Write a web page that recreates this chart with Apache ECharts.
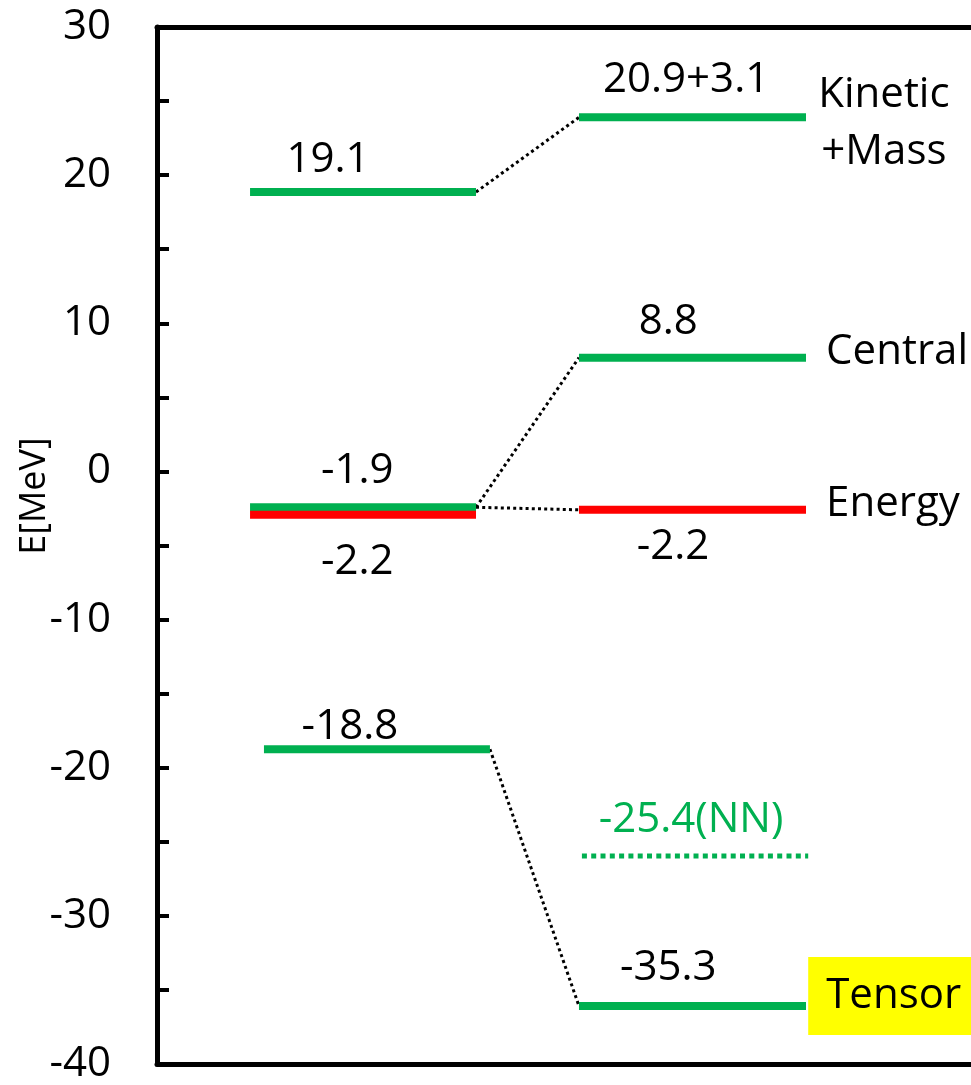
<!DOCTYPE html>
<html><head><meta charset="utf-8">
<script src="https://cdn.jsdelivr.net/npm/echarts@6/dist/echarts.min.js"></script>
<style>html,body{margin:0;padding:0;background:#fff}#c{width:971px;height:1085px}</style>
</head><body><div id="c"></div>
<script>
// ---- data ----
const states = ['Kinetic\n+Mass', 'Central', 'Energy', 'Tensor'];
const leftLevels = [18.86, -2.42, -2.93, -18.75];
const rightLevels = [23.9, 7.68, -2.59, -36.09];
const nnLevel = -25.96;
const leftLabels = ['19.1', '-1.9', '-2.2', '-18.8'];
const rightLabels = ['20.9+3.1', '8.8', '-2.2', '-35.3'];
const nnLabel = '-25.4(NN)';
const links = [[0, 0], [1, 1], [1, 2], [3, 3]];
const yTicks = [30, 20, 10, 0, -10, -20, -30, -40];
const yTitle = 'E[MeV]';

// ---- layout / style ----
const GREEN = '#00b050', RED = '#ff0000';
const FONT = 'Open Sans';
const FS = 42;
const levelColors = [GREEN, GREEN, RED, GREEN];
const leftSpans = [[11.43, 39.19], [11.43, 39.19], [11.43, 39.19], [13.14, 40.9]];
const rightSpan = [51.84, 79.73];
const nnSpan = [52.2, 80.0];
const leftLabelPos = [[21.0, -32], [24.6, -36], [24.6, 47], [23.7, -22.5]];
const rightLabelPos = [[65.0, -37], [62.8, -36], [63.4, 37.5], [62.8, -38]];
const nnLabelPos = [65.6, -35.5];
const namePos = [[89.3, 6, 'center'], [82.2, -6, 'left'], [82.2, -5.5, 'left'], [80.0, -10, 'left']];

const series = [];
function levelLine(x0, x1, y, color) {
  series.push({
    type: 'line', data: [[x0, y], [x1, y]], symbol: 'none', silent: true, z: 3,
    lineStyle: { color: color, width: 8, cap: 'butt' }
  });
}
leftLevels.forEach((v, i) => levelLine(leftSpans[i][0], leftSpans[i][1], v, levelColors[i]));
rightLevels.forEach((v, i) => levelLine(rightSpan[0], rightSpan[1], v, levelColors[i]));
// NN dotted level
series.push({
  type: 'line', data: [[nnSpan[0], nnLevel], [nnSpan[1], nnLevel]], symbol: 'none', silent: true, z: 3,
  lineStyle: { color: GREEN, width: 5, type: [5, 4.3], cap: 'butt' }
});
// connectors
links.forEach(([li, ri]) => {
  series.push({
    type: 'line', symbol: 'none', silent: true, z: 2,
    data: [[leftSpans[li][1], leftLevels[li]], [rightSpan[0], rightLevels[ri]]],
    lineStyle: { color: '#000', width: 3, type: [3, 3.2], cap: 'butt' }
  });
});
// labels
const labelData = [];
leftLabels.forEach((t, i) => labelData.push({
  value: [leftLabelPos[i][0], leftLevels[i]],
  label: { formatter: t, offset: [0, leftLabelPos[i][1]] }
}));
rightLabels.forEach((t, i) => labelData.push({
  value: [rightLabelPos[i][0], rightLevels[i]],
  label: { formatter: t, offset: [0, rightLabelPos[i][1]] }
}));
labelData.push({
  value: [nnLabelPos[0], nnLevel],
  label: { formatter: nnLabel, offset: [0, nnLabelPos[1]], color: GREEN }
});
states.forEach((t, i) => {
  const lab = {
    formatter: t, offset: [0, namePos[i][1]], align: namePos[i][2], lineHeight: 57
  };
  if (i === 3) {
    lab.backgroundColor = '#ffff00';
    lab.padding = [18, 40, 19, 18];
    lab.lineHeight = 41;
  }
  labelData.push({ value: [namePos[i][0], rightLevels[i]], label: lab });
});
series.push({
  type: 'scatter', symbolSize: 0, silent: true, z: 5, data: labelData,
  itemStyle: { opacity: 1 },
  label: {
    show: true, position: 'inside', color: '#000', fontFamily: FONT, fontSize: FS,
    verticalAlign: 'middle', align: 'center', textBorderWidth: 0, opacity: 1
  }
});

const axisX = pos => ({
  type: 'value', min: 0, max: 100, position: pos,
  axisLine: { show: true, onZero: false, lineStyle: { color: '#000', width: 5 } },
  axisTick: { show: false }, axisLabel: { show: false }, splitLine: { show: false }
});

const chart = echarts.init(document.getElementById('c'), null, { renderer: 'canvas' });
chart.setOption({
  animation: false,
  backgroundColor: '#fff',
  grid: { left: 157, right: 0, top: 27, bottom: 19 },
  xAxis: [axisX('bottom'), axisX('top')],
  yAxis: {
    type: 'value', min: -40, max: 30, interval: 5,
    axisLine: { show: true, onZero: false, lineStyle: { color: '#000', width: 5 } },
    axisTick: { show: true, inside: true, length: 12, lineStyle: { color: '#000', width: 4 } },
    axisLabel: {
      margin: 46, color: '#000', fontFamily: FONT, fontSize: FS,
      formatter: v => yTicks.includes(v) ? String(v) : ''
    },
    splitLine: { show: false }
  },
  graphic: [{
    type: 'text', x: 35, y: 496, rotation: Math.PI / 2,
    style: { text: yTitle, font: '36px "Open Sans"', fill: '#000', align: 'center', verticalAlign: 'middle' }
  }],
  series: series
});
</script></body></html>
